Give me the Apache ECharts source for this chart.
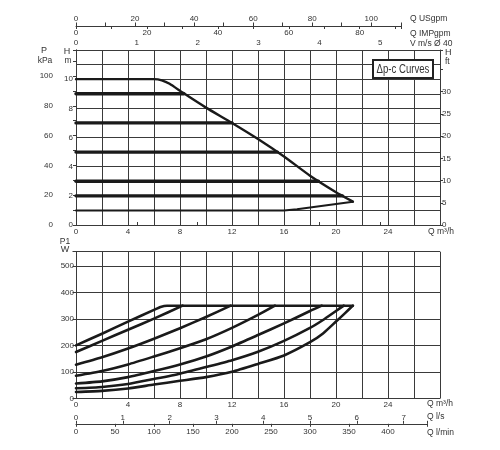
<!DOCTYPE html>
<html><head><meta charset="utf-8">
<script src="https://cdn.jsdelivr.net/npm/echarts@6/dist/echarts.min.js"></script>
<style>html,body{margin:0;padding:0;background:#fff}#c{width:500px;height:450px}</style>
</head><body><div id="c"></div>
<script>
// ---- Δp-c head curves (Q m³/h, H m) ----
const headMax = [[0,10],[6,10],[6.6,9.92],[7.2,9.68],[8.2,9.08],[10,8.05],[12,7.0],[14,5.9],[16,4.7],[18,3.38],[20,2.25],[21.3,1.6]];
const headMin = [[0,1],[16,1],[17,1.08],[21.3,1.6]];
const headLevels = [9, 7, 5, 3, 2];
const headLevelEnds = [8.3, 12, 15.5, 18.65, 20.5];

// ---- Power curves (Q m³/h, P1 W) ----
const powerA = [[0,200],[2,244],[4,290],[6,334],[6.5,345],[7,350],[21.3,350]];
const powerB = [[0,175],[2,217],[4,259],[6,301],[8.2,350]];
const powerC = [[0,127],[2,155],[4,188],[6,225],[8,265],[10,307],[11.9,350]];
const powerD = [[0,85],[2,103],[4,128],[6,158],[8,189],[10,223],[12,266],[14,315],[15.3,350]];
const powerE = [[0,56],[2,64],[4,80],[6,103],[8,128],[10,158],[12,196],[14,239],[16,283],[18,330],[18.9,350]];
const powerF = [[0,38],[2,43],[4,54],[6,73],[8,93],[10,118],[12,144],[14,176],[16,217],[18,266],[19,296],[20,330],[20.6,350]];
const powerG = [[0,24],[2,28],[4,37],[6,52],[8,66],[10,80],[12,100],[14,130],[16,162],[18,212],[19,245],[20,290],[20.7,322],[21.3,350]];

// ---- unit conversions for secondary scales ----
const QMAX = 28;                 // m³/h
const M3H_PER_MS = 4.68;         // m³/h per m/s (Ø 40)
const USGPM_PER_M3H = 4.403;
const IMPGPM_PER_M3H = 3.666;
const KPA_PER_M = 9.79;
const FT_PER_M = 1 / 0.3048;
const HMAX = 12, WMAX = 554;

const FONT = '"Liberation Sans", Arial, sans-serif';
const TXT = '#333';
const LINE = '#1a1a1a';
const GRIDC = '#3a3a3a';

const lab = (fn, margin) => ({ formatter: fn, fontSize: 8, color: TXT, fontFamily: FONT, margin: margin });
const tick = (len, show=true) => ({ show: show, length: len, lineStyle: { color: GRIDC } });
const axl = (show=true) => ({ show: show, lineStyle: { color: GRIDC, width: 1 } });
const split = { show: true, lineStyle: { color: GRIDC, width: 1 } };
const isInt = v => Math.abs(v - Math.round(v)) < 1e-6;

function ln(data, xi, yi, w, smooth) {
  return { type: 'line', xAxisIndex: xi, yAxisIndex: yi, data: data, symbol: 'none', silent: true,
    smooth: smooth || false, lineStyle: { color: LINE, width: w, join: 'round', cap: 'round' }, z: 5 };
}

const series = [
  ln(headMax, 0, 0, 2.4, 0.15),
  ln(headMin, 0, 0, 2.0),
  ...headLevels.map((h, i) => ln([[0, h], [headLevelEnds[i], h]], 0, 0, 3.4)),
  ...[powerA, powerB, powerC, powerD, powerE, powerF, powerG].map(d => ln(d, 2, 3, 2.6, 0.2))
];

function txt(x, y, t, align, size) {
  return { type: 'text', x: x, y: y, z: 50,
    style: { text: t, fontSize: size || 8.5, fontFamily: FONT, fill: TXT, align: align || 'left', verticalAlign: 'middle' } };
}

const option = {
  animation: false,
  grid: [
    { left: 76, top: 50, width: 364, height: 175 },
    { left: 76, top: 251.7, width: 364, height: 146.6 },
    { left: 76, top: 25.5, width: 110 / USGPM_PER_M3H * 13, height: 0.5 },
    { left: 76, top: 423.3, width: 27 * 13, height: 0.5 }
  ],
  xAxis: [
    { gridIndex: 0, type: 'value', min: 0, max: QMAX, interval: 2, position: 'bottom',
      axisLine: axl(), axisTick: tick(0, false),
      axisLabel: lab(v => (v % 4 === 0 && v < QMAX) ? String(v) : '', 3), splitLine: split },
    { gridIndex: 0, type: 'value', min: 0, max: QMAX / M3H_PER_MS, interval: 1, position: 'top',
      axisLine: axl(), axisTick: tick(3),
      axisLabel: lab(v => (isInt(v) && v <= 5) ? String(Math.round(v)) : '', 3), splitLine: { show: false } },
    { gridIndex: 1, type: 'value', min: 0, max: QMAX, interval: 2, position: 'bottom',
      axisLine: axl(), axisTick: tick(0, false),
      axisLabel: lab(v => (v % 4 === 0 && v < QMAX) ? String(v) : '', 2), splitLine: split },
    { gridIndex: 2, type: 'value', min: 0, max: 110, interval: 10, position: 'top',
      axisLine: axl(), axisTick: tick(3.5),
      axisLabel: lab(v => (v % 20 === 0 && v <= 100) ? String(v) : '', 2.5), splitLine: { show: false } },
    { gridIndex: 2, type: 'value', min: 0, max: 110 / USGPM_PER_M3H * IMPGPM_PER_M3H, interval: 10, position: 'bottom',
      axisLine: axl(false), axisTick: tick(3),
      axisLabel: lab(v => (isInt(v) && Math.round(v) % 20 === 0 && v <= 80) ? String(Math.round(v)) : '', 3), splitLine: { show: false } },
    { gridIndex: 3, type: 'value', min: 0, max: 7.5, interval: 1, position: 'top',
      axisLine: axl(), axisTick: tick(3),
      axisLabel: lab(v => (isInt(v) && v <= 7) ? String(Math.round(v)) : '', 2), splitLine: { show: false } },
    { gridIndex: 3, type: 'value', min: 0, max: 450, interval: 50, position: 'bottom',
      axisLine: axl(false), axisTick: tick(3),
      axisLabel: lab(v => (v <= 400) ? String(v) : '', 4), splitLine: { show: false } }
  ],
  yAxis: [
    { gridIndex: 0, type: 'value', min: 0, max: HMAX, interval: 1, position: 'left',
      axisLine: axl(), axisTick: tick(0, false),
      axisLabel: lab(v => (v % 2 === 0 && v < HMAX) ? String(v) : '', 3), splitLine: split },
    { gridIndex: 0, type: 'value', min: 0, max: HMAX * KPA_PER_M, interval: 10, position: 'left', offset: 21.5,
      axisLine: axl(), axisTick: tick(3),
      axisLabel: lab(v => (v % 20 === 0 && v <= 100) ? String(v) : '', 1.5), splitLine: { show: false } },
    { gridIndex: 0, type: 'value', min: 0, max: HMAX * FT_PER_M, interval: 5, position: 'right',
      axisLine: axl(), axisTick: tick(3),
      axisLabel: lab(v => (v <= 30) ? String(v) : '', 2), splitLine: { show: false } },
    { gridIndex: 1, type: 'value', min: 0, max: WMAX, interval: 100, position: 'left',
      axisLine: axl(), axisTick: tick(3.5),
      axisLabel: lab(v => (v <= 500) ? String(v) : '', 2), splitLine: split },
    { gridIndex: 2, type: 'value', min: 0, max: 1, show: false },
    { gridIndex: 3, type: 'value', min: 0, max: 1, show: false }
  ],
  series: series,
  graphic: [
    { type: 'rect', z: 60, shape: { x: 373, y: 60, width: 60, height: 18 },
      style: { fill: '#fff', stroke: '#222', lineWidth: 2 } },
    { type: 'text', x: 403, y: 69.5, z: 61, scaleX: 0.8,
      style: { text: 'Δp-c Curves', fontSize: 12, fontFamily: FONT,
        fill: '#333', align: 'center', verticalAlign: 'middle' } },
    txt(44, 51, 'P', 'center', 9),
    txt(45, 61, 'kPa', 'center', 8.5),
    txt(67, 52, 'H', 'center', 9),
    txt(68, 61, 'm', 'center', 8.5),
    txt(445, 53, 'H', 'left', 9),
    txt(445, 62, 'ft', 'left', 8.5),
    txt(65, 242, 'P1', 'center', 8.5),
    txt(65, 250, 'W', 'center', 9),
    txt(410, 18.3, 'Q USgpm'),
    txt(410, 33.3, 'Q IMPgpm'),
    txt(410, 43.3, 'V m/s Ø 40'),
    txt(428, 231.7, 'Q m³/h'),
    txt(427, 404, 'Q m³/h'),
    txt(427, 416.7, 'Q l/s'),
    txt(427, 432.3, 'Q l/min')
  ]
};

const chart = echarts.init(document.getElementById('c'), null, { renderer: 'canvas' });
chart.setOption(option);
</script>
</body></html>
